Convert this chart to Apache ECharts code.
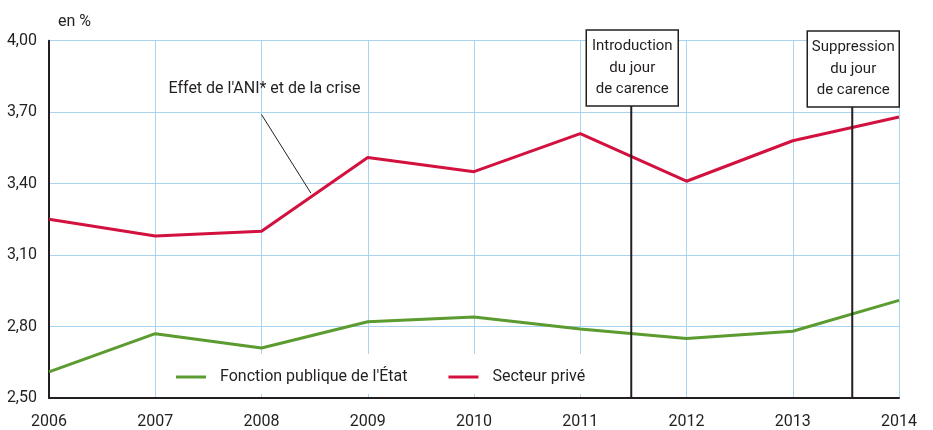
<!DOCTYPE html>
<html><head><meta charset="utf-8">
<script src="https://cdn.jsdelivr.net/npm/echarts@6/dist/echarts.min.js"></script>
<style>html,body{margin:0;padding:0;background:#fff}#c{width:933px;height:430px}</style>
</head><body><div id="c"></div>
<script>
const years = [2006, 2007, 2008, 2009, 2010, 2011, 2012, 2013, 2014];
const secteurPrive = [3.25, 3.18, 3.20, 3.51, 3.45, 3.61, 3.41, 3.58, 3.68];
const fonctionPublique = [2.61, 2.77, 2.71, 2.82, 2.84, 2.79, 2.75, 2.78, 2.91];
const seriesNames = ["Fonction publique de l'État", "Secteur privé"];
const events = [
  { x: 2011.48, top: 3.726, text: ["Introduction", "du jour", "de carence"] },
  { x: 2013.56, top: 3.722, text: ["Suppression", "du jour", "de carence"] }
];
const note = { text: "Effet de l'ANI* et de la crise", from: [2008.0, 3.69], to: [2008.465, 3.36] };
const unitLabel = "en %";

const FONT = "Roboto";
const FS = 16;
const chart = echarts.init(document.getElementById('c'), null, { renderer: 'canvas' });
const pairs = arr => arr.map((v, i) => [years[i], v]);

chart.setOption({
  animation: false,
  backgroundColor: '#fff',
  grid: { left: 49, right: 34, top: 40.7, bottom: 31.7 },
  xAxis: {
    type: 'value', min: years[0], max: years[years.length - 1], interval: 1,
    axisLine: { show: true, lineStyle: { color: '#231f20', width: 2 } },
    axisTick: { show: false },
    splitLine: { show: true, lineStyle: { color: '#a9d4f0', width: 1 } },
    axisLabel: { formatter: v => String(v), color: '#231f20', fontFamily: FONT, fontSize: FS, margin: 16 }
  },
  yAxis: {
    type: 'value', min: 2.5, max: 4.0, interval: 0.3,
    axisLine: { show: true, lineStyle: { color: '#231f20', width: 2 } },
    axisTick: { show: false },
    splitLine: { show: true, lineStyle: { color: '#a9d4f0', width: 1 } },
    axisLabel: { formatter: v => v.toFixed(2).replace('.', ','), color: '#231f20', fontFamily: FONT, fontSize: FS, margin: 12 }
  },
  legend: {
    left: 164, top: 354, padding: [15, 12, 9, 12],
    backgroundColor: '#fff',
    icon: 'rect', itemWidth: 30, itemHeight: 3, itemGap: 41,
    textStyle: { fontFamily: FONT, fontSize: FS, color: '#231f20', padding: [0, 0, 0, 9] },
    data: seriesNames
  },
  series: [
    { name: seriesNames[0], type: 'line', data: pairs(fonctionPublique), showSymbol: false, symbol: 'none',
      lineStyle: { color: '#5b9b2f', width: 3 }, itemStyle: { color: '#5b9b2f' }, z: 3 },
    { name: seriesNames[1], type: 'line', data: pairs(secteurPrive), showSymbol: false, symbol: 'none',
      lineStyle: { color: '#d3113f', width: 3 }, itemStyle: { color: '#d3113f' }, z: 3 }
  ]
});

function drawAnnotations() {
  const g = [];
  const px = (x, y) => chart.convertToPixel({ gridIndex: 0 }, [x, y]);
  const bottom = px(years[0], 2.5)[1];
  events.forEach(e => {
    const p = px(e.x, e.top);
    g.push({ type: 'line', shape: { x1: p[0], y1: p[1], x2: p[0], y2: bottom }, style: { stroke: '#231f20', lineWidth: 2 }, z: 10 });
    const w = 92, h = 76;
    g.push({ type: 'rect', shape: { x: p[0] - w / 2 + 1, y: p[1] - h, width: w, height: h }, style: { fill: '#fff', stroke: '#231f20', lineWidth: 1.5 }, z: 10 });
    g.push({ type: 'text', x: p[0] + 1, y: p[1] - h / 2, style: { text: e.text.join('\n'), fontFamily: FONT, fontSize: 15, lineHeight: 21.5, fill: '#231f20', align: 'center', verticalAlign: 'middle' }, z: 11 });
  });
  const a = px(note.from[0], note.from[1]), b = px(note.to[0], note.to[1]);
  g.push({ type: 'line', shape: { x1: a[0], y1: a[1], x2: b[0], y2: b[1] }, style: { stroke: '#231f20', lineWidth: 1 }, z: 10 });
  g.push({ type: 'text', x: a[0] + 3, y: a[1] - 26, style: { text: note.text, fontFamily: FONT, fontSize: FS, fill: '#231f20', align: 'center', verticalAlign: 'middle' }, z: 11 });
  g.push({ type: 'text', x: 58, y: 22, style: { text: unitLabel, fontFamily: FONT, fontSize: FS, fill: '#231f20', align: 'left', verticalAlign: 'middle' }, z: 11 });
  chart.setOption({ graphic: g });
}
drawAnnotations();
</script></body></html>
